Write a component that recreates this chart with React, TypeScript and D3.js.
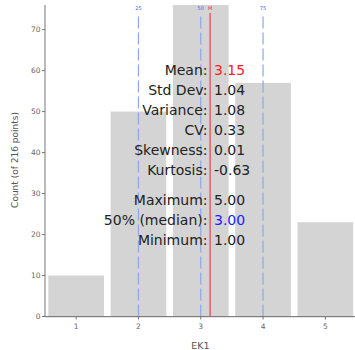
import React from "react";
import * as d3 from "d3";

const categories = [1, 2, 3, 4, 5];
const counts = [10, 50, 76, 57, 23];
const yTicks = [0, 10, 20, 30, 40, 50, 60, 70];
const quartiles = [
  { label: "25", value: 2 },
  { label: "50", value: 3 },
  { label: "75", value: 4 },
];
const meanValue = 3.15;
const statLabels = ["Mean:", "Std Dev:", "Variance:", "CV:", "Skewness:", "Kurtosis:", "Maximum:", "50% (median):", "Minimum:"];
const statValues = ["3.15", "1.04", "1.08", "0.33", "0.01", "-0.63", "5.00", "3.00", "1.00"];
const statColors = ["#ff2020", "#222", "#222", "#222", "#222", "#222", "#222", "#2020ff", "#222"];
const statBaselines = [75, 95, 115, 135, 155, 175, 205, 225, 245];

export default function App() {
  const W = 355, H = 350;
  const x = d3.scaleLinear().domain([0.5, 5.5]).range([45, 356.5]);
  const y = d3.scaleLinear().domain([0, 76]).range([316.5, 5]);
  const inset = 3.3;
  const font = "DejaVu Sans, sans-serif";
  return (
    <svg width={W} height={H} style={{ position: "absolute", left: 0, top: 0, background: "#fff" }}>
      {categories.map((c, i) => (
        <rect key={c} x={x(c - 0.5) + inset} y={y(counts[i])} width={x(c + 0.5) - x(c - 0.5) - 2 * inset}
          height={y(0) - y(counts[i])} fill="#d4d4d4" />
      ))}
      {quartiles.map((q) => (
        <g key={q.label}>
          <line x1={x(q.value)} x2={x(q.value)} y1={16.5} y2={y(0)} stroke="#8ea6ee" strokeWidth={1.2}
            strokeDasharray="12,4" />
          <text x={x(q.value)} y={10} fontSize={5} fill="#4a5ef0" textAnchor="middle" fontFamily={font}>{q.label}</text>
        </g>
      ))}
      <line x1={x(meanValue)} x2={x(meanValue)} y1={13} y2={y(0)} stroke="#f04040" strokeWidth={1.2} />
      <text x={x(meanValue)} y={10} fontSize={5} fill="#f03030" textAnchor="middle" fontFamily={font}>M</text>
      {/* axes */}
      <line x1={45} x2={45} y1={5} y2={y(0)} stroke="#777" strokeWidth={1} />
      <line x1={45} x2={W} y1={y(0) + 0.2} y2={y(0) + 0.2} stroke="#666" strokeWidth={1} />
      {yTicks.map((t) => (
        <g key={t}>
          <line x1={42} x2={45} y1={y(t)} y2={y(t)} stroke="#777" />
          <text x={40.5} y={y(t) + 2.5} fontSize={7.5} fill="#666" textAnchor="end" fontFamily={font}>{t}</text>
        </g>
      ))}
      {categories.map((c) => (
        <g key={c}>
          <line x1={x(c)} x2={x(c)} y1={y(0)} y2={y(0) + 3} stroke="#777" />
          <text x={x(c)} y={328.5} fontSize={7.5} fill="#666" textAnchor="middle" fontFamily={font}>{c}</text>
        </g>
      ))}
      <text x={200.3} y={348.5} fontSize={9.5} fill="#555" textAnchor="middle" fontFamily={font}>EK1</text>
      <text transform="translate(18,160) rotate(-90)" fontSize={9} fill="#555" textAnchor="middle" fontFamily={font}>
        Count (of 216 points)
      </text>
      {statLabels.map((l, i) => (
        <g key={l}>
          <text x={207.5} y={statBaselines[i]} fontSize={14} fill="#222" textAnchor="end" fontFamily={font}>{l}</text>
          <text x={214} y={statBaselines[i]} fontSize={14} fill={statColors[i]} fontFamily={font}>{statValues[i]}</text>
        </g>
      ))}
    </svg>
  );
}
